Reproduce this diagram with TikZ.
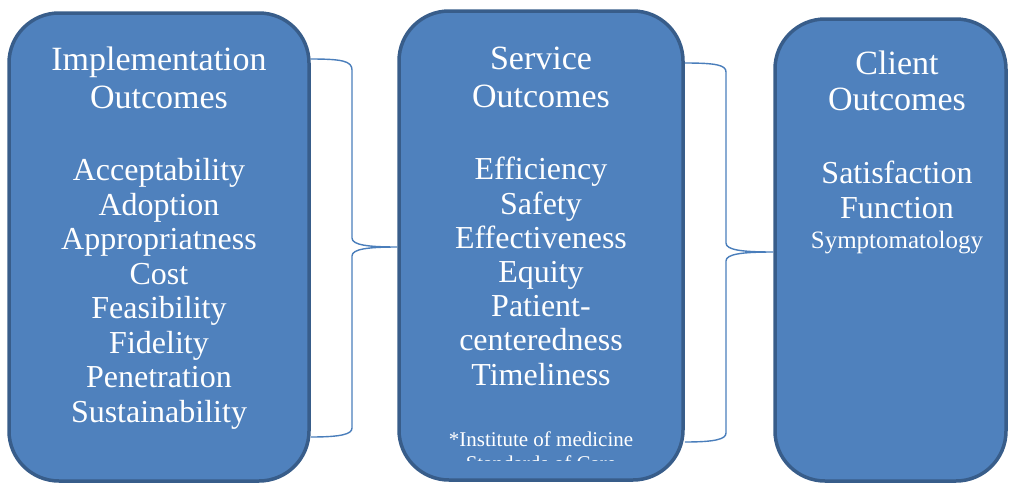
\documentclass[tikz,border=0pt]{standalone}
\usepackage{fontspec}
\setmainfont{Liberation Serif}
\usetikzlibrary{calc}
\definecolor{boxblue}{HTML}{4F81BD}
\definecolor{edgeblue}{HTML}{385D8A}
\definecolor{braceblue}{HTML}{4A7EBB}
\tikzset{
  outcomebox/.style={
    draw=edgeblue,
    line width=3.5pt,
    fill=boxblue,
    rounded corners=50pt,
    inner sep=0pt
  },
  % base sits on the last line of a stacked node
  heading/.style={text=white, align=center, anchor=base, inner sep=0pt,
    font=\fontsize{34}{38}\selectfont},
  itemlist/.style={text=white, align=center, anchor=base, inner sep=0pt,
    font=\fontsize{32}{34.5}\selectfont},
  note/.style={text=white, align=center, anchor=base, inner sep=0pt,
    font=\fontsize{21}{24}\selectfont},
  link/.style={draw=braceblue, line width=1.4pt}
}

\begin{document}
\begin{tikzpicture}[x=1pt,y=-1pt]
\useasboundingbox (0,0) rectangle (1010,483);
\clip (0,0) rectangle (1010,483);

% the three outcome boxes
\node[outcomebox, minimum width=300pt, minimum height=468pt] (impl) at (159,247) {};
\node[outcomebox, minimum width=284pt, minimum height=469pt] (serv) at (541,245.5) {};
\node[outcomebox, minimum width=231pt, minimum height=462pt] (client) at (890.5,250) {};

% implementation outcomes
\node[heading] (impltitle) at (159,108) {Implementation\\Outcomes};
\node[itemlist] (impllist) at (159,422) {Acceptability\\Adoption\\Appropriatness\\Cost\\Feasibility\\Fidelity\\Penetration\\Sustainability};

% service outcomes
\node[heading] (servtitle) at (541,107) {Service\\Outcomes};
\node[itemlist, font=\fontsize{32}{34.2}\selectfont] (servlist) at (541,385) {Efficiency\\Safety\\Effectiveness\\Equity\\Patient-\\centeredness\\Timeliness};
\begin{scope}
  \clip (400,420) rectangle (690,460);
  \node[note] (iom) at (541,470) {*Institute of medicine\\Standards of Care};
\end{scope}

% client outcomes
\node[heading, font=\fontsize{34}{36}\selectfont] (clienttitle) at (897,110) {Client\\Outcomes};
\node[itemlist, font=\fontsize{32}{35}\selectfont] (clientlist) at (897,218) {Satisfaction\\Function};
\node[itemlist, font=\fontsize{25}{28}\selectfont] (symptoms) at (897,248) {Symptomatology};

% braces between the boxes
\coordinate (b1top) at (impl.east |- 0,59);
\coordinate (b1bot) at (impl.east |- 0,437);
\coordinate (b1tip) at (serv.west |- 0,247);
\draw[link] (b1top) .. controls (342,59) and (352,61) .. (352,70)
  -- (352,238) .. controls (352,245) and (368,247) .. (b1tip)
  .. controls (368,247) and (352,249) .. (352,256)
  -- (352,428) .. controls (352,434) and (342,437) .. (b1bot);

\coordinate (b2top) at (serv.east |- 0,63);
\coordinate (b2bot) at (serv.east |- 0,442);
\coordinate (b2tip) at (client.west |- 0,252);
\draw[link] (b2top) .. controls (716,63) and (726,65) .. (726,72)
  -- (726,243) .. controls (726,250) and (742,252) .. (b2tip)
  .. controls (742,252) and (726,254) .. (726,261)
  -- (726,433) .. controls (726,439) and (716,442) .. (b2bot);
\end{tikzpicture}
\end{document}
